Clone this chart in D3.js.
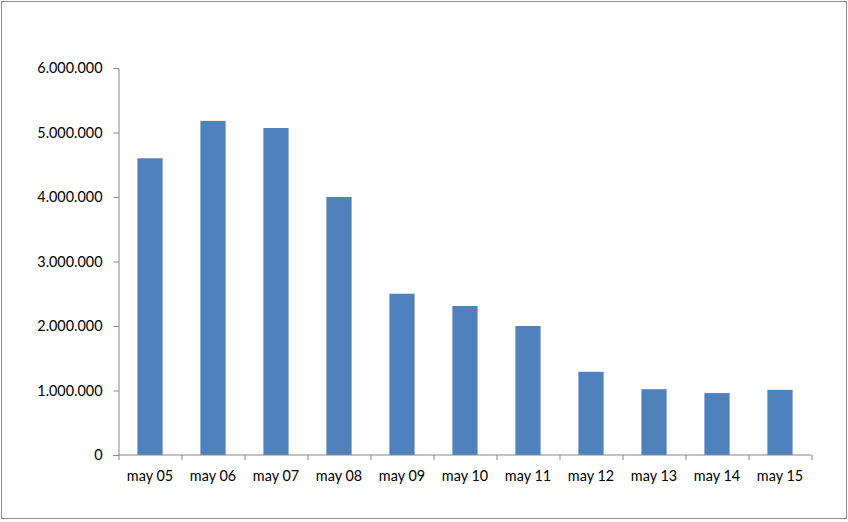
<!DOCTYPE html>
<html><head><meta charset="utf-8">
<script src="https://cdn.jsdelivr.net/npm/d3@7"></script>
<style>body{margin:0;background:#fff}svg{display:block}</style>
</head><body>
<script>
const categories = ["may 05","may 06","may 07","may 08","may 09","may 10","may 11","may 12","may 13","may 14","may 15"];
const values = [4600000,5180000,5070000,4000000,2500000,2310000,2000000,1290000,1020000,960000,1010000];
const yTicks = [0,1000000,2000000,3000000,4000000,5000000,6000000];

(function(){
const W=848,H=522;
const svg=d3.select("body").append("svg").attr("width",W).attr("height",H);
svg.append("rect").attr("x",1.5).attr("y",1.5).attr("width",845).attr("height",517)
  .attr("fill","#fff").attr("stroke","#8c8c8c").attr("stroke-width",1);

const pL=118.5,pR=811.5,pT=68,pB=455;
const x=d3.scaleBand().domain(categories).range([pL,pR]).paddingInner(0.6).paddingOuter(0.3);
const y=d3.scaleLinear().domain([0,6000000]).range([pB,pT]);
const fmt=v=>v===0?"0":d3.format(",")(v).replace(/,/g,".");
const font="Lato, 'Open Sans', sans-serif";
const fs="14.4px";

svg.append("g").selectAll("rect").data(values).join("rect")
  .attr("x",(d,i)=>x(categories[i])).attr("width",x.bandwidth())
  .attr("y",d=>y(d)).attr("height",d=>pB-y(d)).attr("fill","#4f81bd");

const ya=svg.append("g").attr("transform",`translate(${pL},0)`)
  .call(d3.axisLeft(y).tickValues(yTicks).tickFormat(fmt).tickSize(5).tickPadding(11));
ya.select(".domain").attr("stroke","#868686");
ya.selectAll(".tick line").attr("stroke","#868686");
ya.selectAll("text").attr("font-family",font).attr("font-size",fs).attr("fill","#000");

const xb=d3.scaleLinear().domain([0,categories.length]).range([pL,pR]);
const xa=svg.append("g").attr("transform",`translate(0,${pB})`)
  .call(d3.axisBottom(xb).tickValues(d3.range(categories.length+1)).tickSize(5).tickFormat(""));
xa.select(".domain").attr("stroke","#868686").attr("d",`M${pL},0H${pR}`);
xa.selectAll(".tick line").attr("stroke","#868686");
svg.append("g").selectAll("text").data(categories).join("text")
  .attr("x",d=>x(d)+x.bandwidth()/2).attr("y",481)
  .attr("text-anchor","middle").attr("font-family",font).attr("font-size",fs).attr("fill","#000")
  .text(d=>d);
})();
</script>
</body></html>
